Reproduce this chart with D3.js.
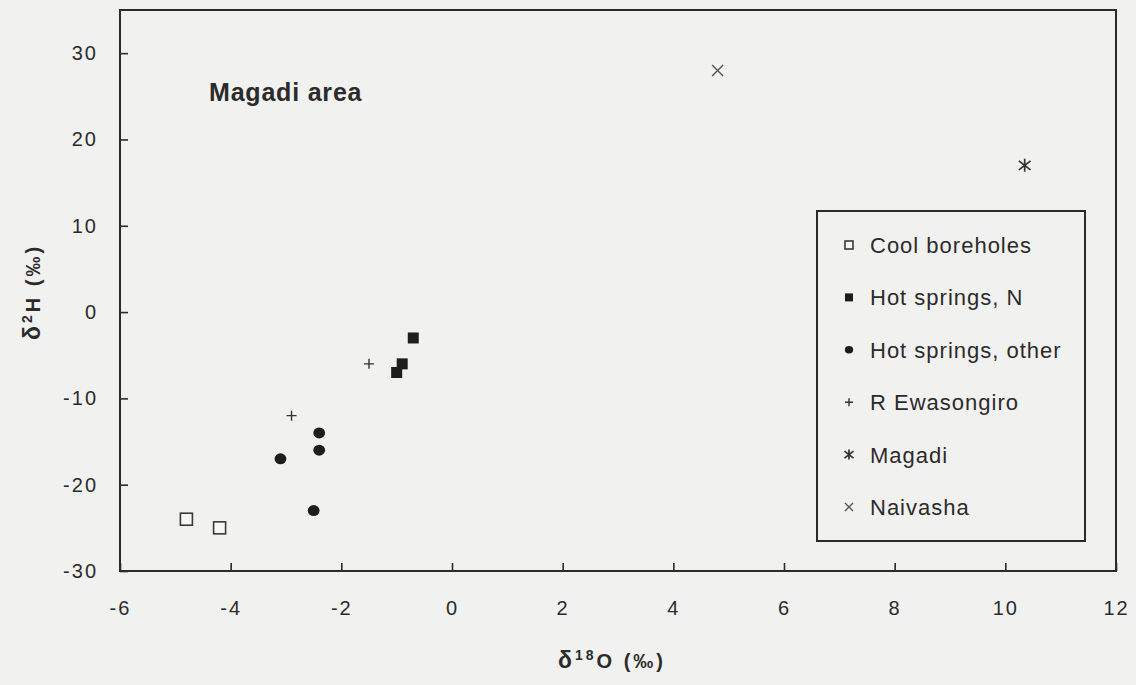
<!DOCTYPE html>
<html lang="en">
<head>
    <meta charset="UTF-8">
    <title>Magadi area</title>
    <script src="https://d3js.org/d3.v7.min.js"></script>
    <style>
      body { margin: 0; background: #f1f1ef; }
      text { font-family: "Liberation Sans", Arial, sans-serif; fill: #2b2b2b; }
    </style>
</head>
<body>
  <script>
    // data (d18O, d2H in permil)
    var coolX = [-4.8, -4.2];
    var coolY = [-24, -25];
    var hotNX = [-0.7, -0.9, -1.0];
    var hotNY = [-3, -6, -7];
    var hotOX = [-2.4, -2.4, -3.1, -2.5];
    var hotOY = [-14, -16, -17, -23];
    var ewaX = [-1.5, -2.9];
    var ewaY = [-6, -12];
    var magadiX = [10.35];
    var magadiY = [17];
    var naivashaX = [4.8];
    var naivashaY = [28];

    var seriesNames = ['Cool boreholes', 'Hot springs, N', 'Hot springs, other', 'R Ewasongiro', 'Magadi', 'Naivasha'];
    var seriesKeys = ['openSquare', 'square', 'circle', 'plus', 'asterisk', 'cross'];
    var xTicks = [-6, -4, -2, 0, 2, 4, 6, 8, 10, 12];
    var yTicks = [-30, -20, -10, 0, 10, 20, 30];

    var width = 1136;
    var height = 685;
    var svg = d3.select('body').append('svg').attr('width', width).attr('height', height);
    svg.append('rect').attr('width', width).attr('height', height).attr('fill', '#f1f1ef');

    var plot = {left: 120, right: 1116, top: 10, bottom: 571};
    var x = d3.scaleLinear().domain([-6, 12]).range([plot.left, plot.right]);
    var y = d3.scaleLinear().domain([-30, 35]).range([plot.bottom, plot.top]);
    var ink = '#2b2b2b';
    var plain = function(d){ return String(d); }; // keep hyphen minus like the original

    // axes, ticks point inward
    var xAxis = svg.append('g').attr('transform', 'translate(0,' + plot.bottom + ')')
      .call(d3.axisBottom(x).tickValues(xTicks).tickSize(-8).tickPadding(30).tickFormat(plain));
    var yAxis = svg.append('g').attr('transform', 'translate(' + plot.left + ',0)')
      .call(d3.axisLeft(y).tickValues(yTicks).tickSize(-8).tickPadding(22).tickFormat(plain));
    [xAxis, yAxis].forEach(function(a){
      a.select('.domain').remove();
      a.selectAll('line').attr('stroke', ink).attr('stroke-width', 1.6);
      a.selectAll('text').attr('font-size', '20px').attr('letter-spacing', '2px')
        .attr('fill', ink).style('font-family', '"Liberation Sans", Arial, sans-serif');
    });

    // frame
    svg.append('rect')
      .attr('x', plot.left).attr('y', plot.top)
      .attr('width', plot.right - plot.left).attr('height', plot.bottom - plot.top)
      .attr('fill', 'none').attr('stroke', ink).attr('stroke-width', 2);

    // symbol drawing
    function drawMark(g, key, s) {
      if (key === 'openSquare') {
        g.append('rect').attr('x', -s/2).attr('y', -s/2).attr('width', s).attr('height', s)
          .attr('fill', '#f7f7f5').attr('stroke', '#3a3a3a').attr('stroke-width', 1.6);
      } else if (key === 'square') {
        g.append('rect').attr('x', -s/2).attr('y', -s/2).attr('width', s).attr('height', s).attr('fill', '#1e1e1e');
      } else if (key === 'circle') {
        g.append('ellipse').attr('rx', s/2 + 0.4).attr('ry', s/2).attr('fill', '#1e1e1e');
      } else if (key === 'plus') {
        g.append('path').attr('d', 'M' + (-s/2) + ',0H' + (s/2) + 'M0,' + (-s/2) + 'V' + (s/2))
          .attr('stroke', '#333').attr('stroke-width', 1.4).attr('fill', 'none');
      } else if (key === 'asterisk') {
        var a = s/2;
        g.append('path').attr('d', 'M0,' + (-a) + 'V' + a + 'M' + (-a*0.9) + ',' + (-a*0.7) + 'L' + (a*0.9) + ',' + (a*0.7) +
          'M' + (-a*0.9) + ',' + (a*0.7) + 'L' + (a*0.9) + ',' + (-a*0.7))
          .attr('stroke', '#333').attr('stroke-width', 1.7).attr('fill', 'none');
      } else if (key === 'cross') {
        var c = s/2;
        g.append('path').attr('d', 'M' + (-c) + ',' + (-c) + 'L' + c + ',' + c + 'M' + (-c) + ',' + c + 'L' + c + ',' + (-c))
          .attr('stroke', '#555').attr('stroke-width', 1.4).attr('fill', 'none');
      }
    }

    var seriesX = [coolX, hotNX, hotOX, ewaX, magadiX, naivashaX];
    var seriesY = [coolY, hotNY, hotOY, ewaY, magadiY, naivashaY];
    var markSize = {openSquare: 12, square: 11, circle: 11, plus: 10, asterisk: 13, cross: 11};
    var legendSize = {openSquare: 8, square: 8, circle: 7.5, plus: 8, asterisk: 10, cross: 8};

    seriesKeys.forEach(function(key, si){
      var pts = seriesX[si].map(function(v, i){ return [v, seriesY[si][i]]; });
      svg.append('g').selectAll('g').data(pts).enter().append('g')
        .attr('transform', function(d){ return 'translate(' + x(d[0]) + ',' + y(d[1]) + ')'; })
        .each(function(){ drawMark(d3.select(this), key, markSize[key]); });
    });

    // chart label
    svg.append('text').attr('x', 209).attr('y', 101)
      .attr('font-size', '25px').attr('font-weight', 'bold').attr('letter-spacing', '0.8px')
      .text('Magadi area');

    // axis titles
    var xt = svg.append('text').attr('x', 612).attr('y', 668).attr('text-anchor', 'middle')
      .attr('font-size', '20px').attr('font-weight', 'bold').attr('letter-spacing', '3px');
    xt.append('tspan').attr('font-size', '23px').text('δ');
    xt.append('tspan').attr('dy', -8).attr('font-size', '14px').text('18');
    xt.append('tspan').attr('dy', 8).text('O (‰)');

    var yt = svg.append('text').attr('transform', 'translate(40,292) rotate(-90)').attr('text-anchor', 'middle')
      .attr('font-size', '20px').attr('font-weight', 'bold').attr('letter-spacing', '3px');
    yt.append('tspan').attr('font-size', '23px').text('δ');
    yt.append('tspan').attr('dy', -8).attr('font-size', '14px').text('2');
    yt.append('tspan').attr('dy', 8).text('H (‰)');

    // legend
    var legend = svg.append('g');
    legend.append('rect').attr('x', 817).attr('y', 211).attr('width', 268).attr('height', 330)
      .attr('fill', 'none').attr('stroke', ink).attr('stroke-width', 2);
    var rows = legend.selectAll('g.row').data(seriesNames).enter().append('g').attr('class', 'row')
      .attr('transform', function(d, i){ return 'translate(849,' + (245 + i * 52.4) + ')'; });
    rows.each(function(d, i){ drawMark(d3.select(this), seriesKeys[i], legendSize[seriesKeys[i]]); });
    rows.append('text').attr('x', 21).attr('y', 8)
      .attr('font-size', '22px').attr('letter-spacing', '1px')
      .text(function(d){ return d; });
  </script>
</body>
</html>
